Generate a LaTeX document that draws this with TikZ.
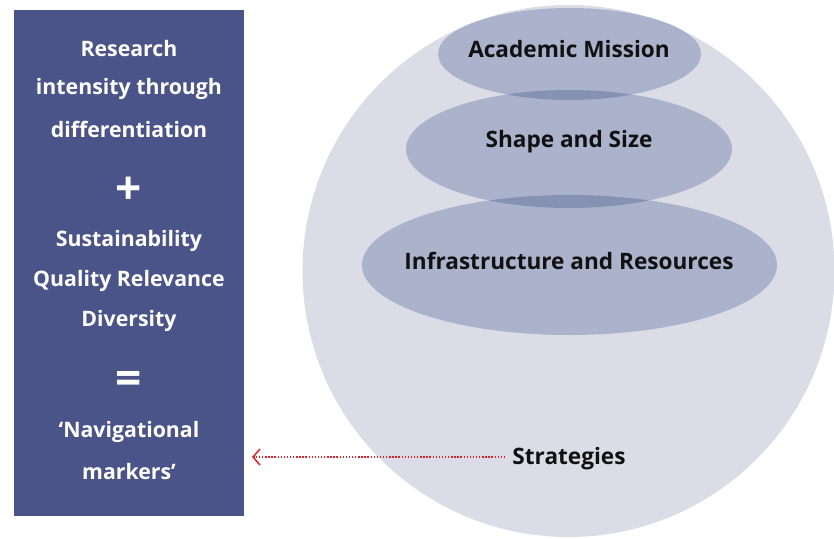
\documentclass[tikz,border=0pt]{standalone}
\usepackage{fontspec}
\setmainfont{Open Sans}
\usetikzlibrary{arrows.meta}
\definecolor{boxblue}{HTML}{4A5488}
\definecolor{circfill}{HTML}{DCDCE7}
\definecolor{ellfill}{HTML}{ABB3CC}
\definecolor{ovlfill}{HTML}{8692B4}
\definecolor{arrred}{HTML}{E0202A}
\definecolor{txtblack}{HTML}{111111}
\begin{document}
\begin{tikzpicture}[x=1pt,y=-1pt,
  lefttxt/.style={text=white,font=\fontsize{21.3}{24}\selectfont\bfseries,inner sep=0pt,anchor=center},
  bigsym/.style={text=white,font=\fontsize{46}{46}\selectfont\bfseries,inner sep=0pt,anchor=center},
  lbl/.style={text=txtblack,font=\fontsize{22.6}{26}\selectfont\bfseries,inner sep=0pt,anchor=center},
  connector/.style={draw=arrred,line width=1.4pt,dash pattern=on 1.4pt off 1.7pt,
    -{Straight Barb[length=7pt,width=16pt,line width=1.5pt,sep=0pt]}}]
\useasboundingbox (0,0) rectangle (834,538);
\clip (0,0) rectangle (834,538);
% left panel
\fill[boxblue] (14,10) rectangle (244,516);
\node[lefttxt] (l1) at (129,49) {Research};
\node[lefttxt] (l2) at (129,89) {intensity through};
\node[lefttxt] (l3) at (129,129) {differentiation};
\node[bigsym] (plus) at (129,191) {+};
\node[lefttxt] (l4) at (129,241) {Sustainability};
\node[lefttxt] (l5) at (129,281) {Quality Relevance};
\node[lefttxt] (l6) at (129,321) {Diversity};
\node[bigsym] (eq) at (129,383) {=};
\node[lefttxt] (l7) at (129,432) {‘Navigational};
\node[lefttxt] (l8) at (129,472) {markers’};
% big circle
\fill[circfill] (568.5,271) circle[radius=266pt];
% ellipses
\fill[ellfill] (569.5,54) ellipse[x radius=131.5pt,y radius=46pt];
\fill[ellfill] (569,149) ellipse[x radius=163pt,y radius=59pt];
\fill[ellfill] (569.5,265) ellipse[x radius=207.5pt,y radius=70pt];
\begin{scope}
  \clip (569.5,54) ellipse[x radius=131.5pt,y radius=46pt];
  \fill[ovlfill] (569,149) ellipse[x radius=163pt,y radius=59pt];
\end{scope}
\begin{scope}
  \clip (569,149) ellipse[x radius=163pt,y radius=59pt];
  \fill[ovlfill] (569.5,265) ellipse[x radius=207.5pt,y radius=70pt];
\end{scope}
\node[lbl] (am) at (569,49) {Academic Mission};
\node[lbl] (ss) at (569,142) {Shape and Size};
\node[lbl] (ir) at (569,261) {Infrastructure and Resources};
\node[lbl] (st) at (569,459) {Strategies};
\coordinate (tip) at (252,457);
\draw[connector] ([xshift=-7pt]st.west |- tip) -- (tip);
\end{tikzpicture}
\end{document}
